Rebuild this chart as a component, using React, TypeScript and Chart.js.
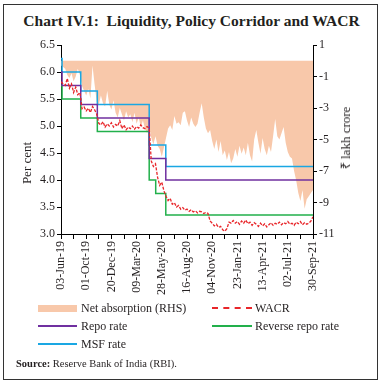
import React, { useEffect, useRef } from "react";
import { Chart, registerables } from "chart.js";
Chart.register(...registerables);

// x axis: index 0..120 (each label interval = 12 steps)
const xTickLabels = [
  "03-Jun-19", "01-Oct-19", "20-Dec-19", "09-Mar-20", "28-May-20", "16-Aug-20",
  "04-Nov-20", "23-Jan-21", "13-Apr-21", "02-Jul-21", "30-Sep-21",
];

// Net absorption (RHS), ₹ lakh crore, one value per index step
const netAbsorption = [
  -0.3, -0.4, -0.5, -0.9, -1.1, -0.8, -1.3, -1.0, -0.5, -0.9,
  -1.6, -1.9, -2.2, -1.8, -2.4, -0.3, -1.5, -2.6, -2.8, -2.2,
  -2.7, -2.9, -1.9, -2.8, -3.1, -2.5, -3.3, -3.6, -3.0, -3.4,
  -3.8, -3.2, -3.6, -3.4, -3.9, -3.3, -4.0, -3.6, -4.2, -3.8,
  -4.3, -4.6, -4.2, -4.9, -5.3, -4.8, -5.4, -5.6, -6.1, -5.5,
  -4.9, -4.3, -4.1, -4.4, -3.5, -4.0, -3.9, -4.1, -3.3, -3.2,
  -3.8, -4.2, -3.6, -4.0, -4.2, -4.0, -3.3, -2.7, -3.6, -4.3,
  -4.6, -4.4, -5.1, -5.6, -5.0, -5.8, -5.1, -6.0, -5.7, -6.3,
  -5.8, -6.5, -6.2, -5.6, -6.1, -5.4, -5.9, -5.5, -6.0, -5.2,
  -6.0, -6.4, -5.0, -4.4, -5.2, -5.9, -4.9, -5.6, -6.0, -5.4,
  -5.8, -4.8, -3.7, -4.8, -5.0, -4.6, -4.2, -5.2, -5.8, -6.1,
  -6.2, -7.0, -7.6, -8.4, -8.9, -8.2, -9.4, -8.8, -8.6, -8.4,
  -8.2,
];

// WACR, per cent, one value per index step
const wacr = [
  5.82, 5.78, 5.75, 5.88, 5.70, 5.78, 5.62, 5.72, 5.58, 5.62,
  5.32, 5.35, 5.28, 5.33, 5.25, 5.36, 5.30, 5.22, 5.05, 5.02,
  5.08, 4.98, 5.04, 5.00, 5.06, 4.98, 5.03, 5.00, 5.10, 4.95,
  5.02, 4.93, 4.98, 4.95, 5.00, 4.94, 4.99, 4.96, 5.02, 4.97,
  4.95, 4.99, 4.96, 4.35, 4.25, 4.30, 4.05, 3.90, 3.96, 3.80,
  3.70, 3.62, 3.66, 3.55, 3.58, 3.50, 3.53, 3.46, 3.49, 3.44,
  3.46, 3.42, 3.45, 3.41, 3.43, 3.39, 3.42, 3.41, 3.38, 3.40,
  3.38, 3.24, 3.20, 3.15, 3.18, 3.12, 3.14, 3.08, 3.05, 3.10,
  3.22, 3.20, 3.25, 3.20, 3.23, 3.18, 3.24, 3.20, 3.26, 3.19,
  3.22, 3.16, 3.21, 3.18, 3.14, 3.20, 3.15, 3.19, 3.13, 3.17,
  3.21, 3.16, 3.20, 3.18, 3.22, 3.17, 3.21, 3.19, 3.23, 3.18,
  3.20, 3.16, 3.22, 3.19, 3.23, 3.17, 3.21, 3.18, 3.20, 3.24,
  3.32,
];

// Policy rate changes (index positions on the x axis)
const rateChangeIdx = [0, 0.5, 9.4, 17.3, 42, 45.1, 49.9, 120];
const repoRate = [6.0, 5.75, 5.4, 5.15, 4.4, 4.4, 4.0, 4.0];
const reverseRepoRate = [5.75, 5.5, 5.15, 4.9, 4.0, 3.75, 3.35, 3.35];
const msfRate = [6.25, 6.0, 5.65, 5.4, 4.65, 4.65, 4.25, 4.25];

const COLORS = {
  net: "#F8C8AA",
  wacr: "#E8262A",
  repo: "#7030A0",
  reverse: "#22B04B",
  msf: "#1AA7E3",
  text: "#231F20",
};

const FONT = '"Liberation Serif", "Times New Roman", serif';

const CANVAS_W = 383;
const CANVAS_H = 300;

function App() {
  const ref = useRef<HTMLCanvasElement | null>(null);

  useEffect(() => {
    if (!ref.current) return;
    const pts = (xs: number[], ys: number[]) => xs.map((x, i) => ({ x, y: ys[i] }));
    const series = (ys: number[]) => ys.map((y, i) => ({ x: i, y }));

    const chart = new Chart(ref.current, {
      type: "line",
      data: {
        datasets: [
          {
            label: "WACR",
            data: series(wacr),
            yAxisID: "y",
            borderColor: COLORS.wacr,
            borderWidth: 1.3,
            borderDash: [3, 1.5],
            pointRadius: 0,
            fill: false,
            order: 1,
          },
          {
            label: "Repo rate",
            data: pts(rateChangeIdx, repoRate),
            yAxisID: "y",
            borderColor: COLORS.repo,
            borderWidth: 1.5,
            stepped: true,
            pointRadius: 0,
            fill: false,
            order: 2,
          },
          {
            label: "Reverse repo rate",
            data: pts(rateChangeIdx, reverseRepoRate),
            yAxisID: "y",
            borderColor: COLORS.reverse,
            borderWidth: 1.5,
            stepped: true,
            pointRadius: 0,
            fill: false,
            order: 3,
          },
          {
            label: "MSF rate",
            data: pts(rateChangeIdx, msfRate),
            yAxisID: "y",
            borderColor: COLORS.msf,
            borderWidth: 1.5,
            stepped: true,
            pointRadius: 0,
            fill: false,
            order: 4,
          },
          {
            label: "Net absorption (RHS)",
            data: series(netAbsorption),
            yAxisID: "y2",
            borderWidth: 0,
            borderColor: COLORS.net,
            backgroundColor: COLORS.net,
            pointRadius: 0,
            fill: "origin",
            order: 10,
          },
        ],
      },
      options: {
        responsive: false,
        animation: false,
        events: [],
        layout: { padding: { top: 45, left: 0, right: 0, bottom: 0 } },
        plugins: { legend: { display: false }, tooltip: { enabled: false } },
        scales: {
          x: {
            type: "linear",
            min: 0,
            max: 120,
            afterFit: (s: any) => { s.height = CANVAS_H - 234; },
            afterBuildTicks: (s: any) => {
              const t = [];
              for (let v = 0; v <= 120; v += 6) t.push({ value: v });
              s.ticks = t;
            },
            grid: { display: true, drawOnChartArea: false, drawTicks: true, tickLength: 5, color: "#000" },
            border: { display: true, color: "#000", width: 1 },
            ticks: {
              autoSkip: false,
              maxRotation: 90,
              minRotation: 90,
              padding: 2,
              color: COLORS.text,
              font: { family: FONT, size: 12 },
              callback: (v: any) => (Number(v) % 12 === 0 ? xTickLabels[Number(v) / 12] : ""),
            },
          },
          y: {
            position: "left",
            min: 3,
            max: 6.5,
            afterFit: (s: any) => { s.width = 61; },
            grid: { display: true, drawOnChartArea: false, drawTicks: true, tickLength: 4, color: "#000" },
            border: { display: true, color: "#000", width: 1 },
            ticks: {
              stepSize: 0.5,
              padding: 2,
              color: COLORS.text,
              font: { family: FONT, size: 12 },
              callback: (v: any) => Number(v).toFixed(1),
            },
          },
          y2: {
            position: "right",
            min: -11,
            max: 1,
            afterFit: (s: any) => { s.width = CANVAS_W - 313; },
            grid: { display: true, drawOnChartArea: false, drawTicks: true, tickLength: 4, color: "#000" },
            border: { display: true, color: "#000", width: 1 },
            ticks: {
              stepSize: 2,
              padding: 2,
              color: COLORS.text,
              font: { family: FONT, size: 12 },
              callback: (v: any) => String(v),
            },
          },
        },
      },
    });
    return () => chart.destroy();
  }, []);

  const abs = (s: React.CSSProperties): React.CSSProperties => ({ position: "absolute", ...s });
  const rot = (cx: number, cy: number): React.CSSProperties => ({
    position: "absolute",
    left: cx,
    top: cy,
    transform: "translate(-50%, -50%) rotate(-90deg)",
    whiteSpace: "nowrap",
    fontSize: 13,
  });
  const legendText: React.CSSProperties = { fontSize: 12, whiteSpace: "nowrap", lineHeight: "14px" };

  return (
    <div
      style={{
        position: "fixed",
        left: 0,
        top: 0,
        width: 383,
        height: 387,
        background: "#fff",
        fontFamily: FONT,
        color: COLORS.text,
        overflow: "hidden",
      }}
    >
      <div style={abs({ left: 3, top: 4, width: 375, height: 376, border: "1px solid #333", boxSizing: "border-box" })} />
      <div style={abs({ left: 0, width: 383, top: 12, textAlign: "center", fontSize: 15.5, fontWeight: "bold", whiteSpace: "nowrap" })}>
        Chart IV.1:&nbsp; Liquidity, Policy Corridor and WACR
      </div>
      <canvas ref={ref} width={CANVAS_W} height={CANVAS_H} style={abs({ left: 0, top: 0, width: CANVAS_W, height: CANVAS_H })} />
      <div style={rot(27, 163)}>Per cent</div>
      <div style={rot(345, 138)}>₹ lakh crore</div>

      {/* Legend */}
      <div style={abs({ left: 38, top: 305, width: 39, height: 7, background: COLORS.net })} />
      <div style={abs({ left: 81, top: 301, ...legendText })}>Net absorption (RHS)</div>
      <div style={abs({ left: 38, top: 325, width: 39, height: 2, background: COLORS.repo })} />
      <div style={abs({ left: 81, top: 319, ...legendText })}>Repo rate</div>
      <div style={abs({ left: 38, top: 343, width: 39, height: 2, background: COLORS.msf })} />
      <div style={abs({ left: 81, top: 337, ...legendText })}>MSF rate</div>

      <div style={abs({ left: 212, top: 307, width: 40, height: 0, borderTop: `2px dashed ${COLORS.wacr}` })} />
      <div style={abs({ left: 255, top: 301, ...legendText })}>WACR</div>
      <div style={abs({ left: 212, top: 325, width: 40, height: 2, background: COLORS.reverse })} />
      <div style={abs({ left: 255, top: 319, ...legendText })}>Reverse repo rate</div>

      <div style={abs({ left: 16, top: 358, fontSize: 10.5, whiteSpace: "nowrap" })}>
        <b>Source:</b> Reserve Bank of India (RBI).
      </div>
    </div>
  );
}

export default App;
